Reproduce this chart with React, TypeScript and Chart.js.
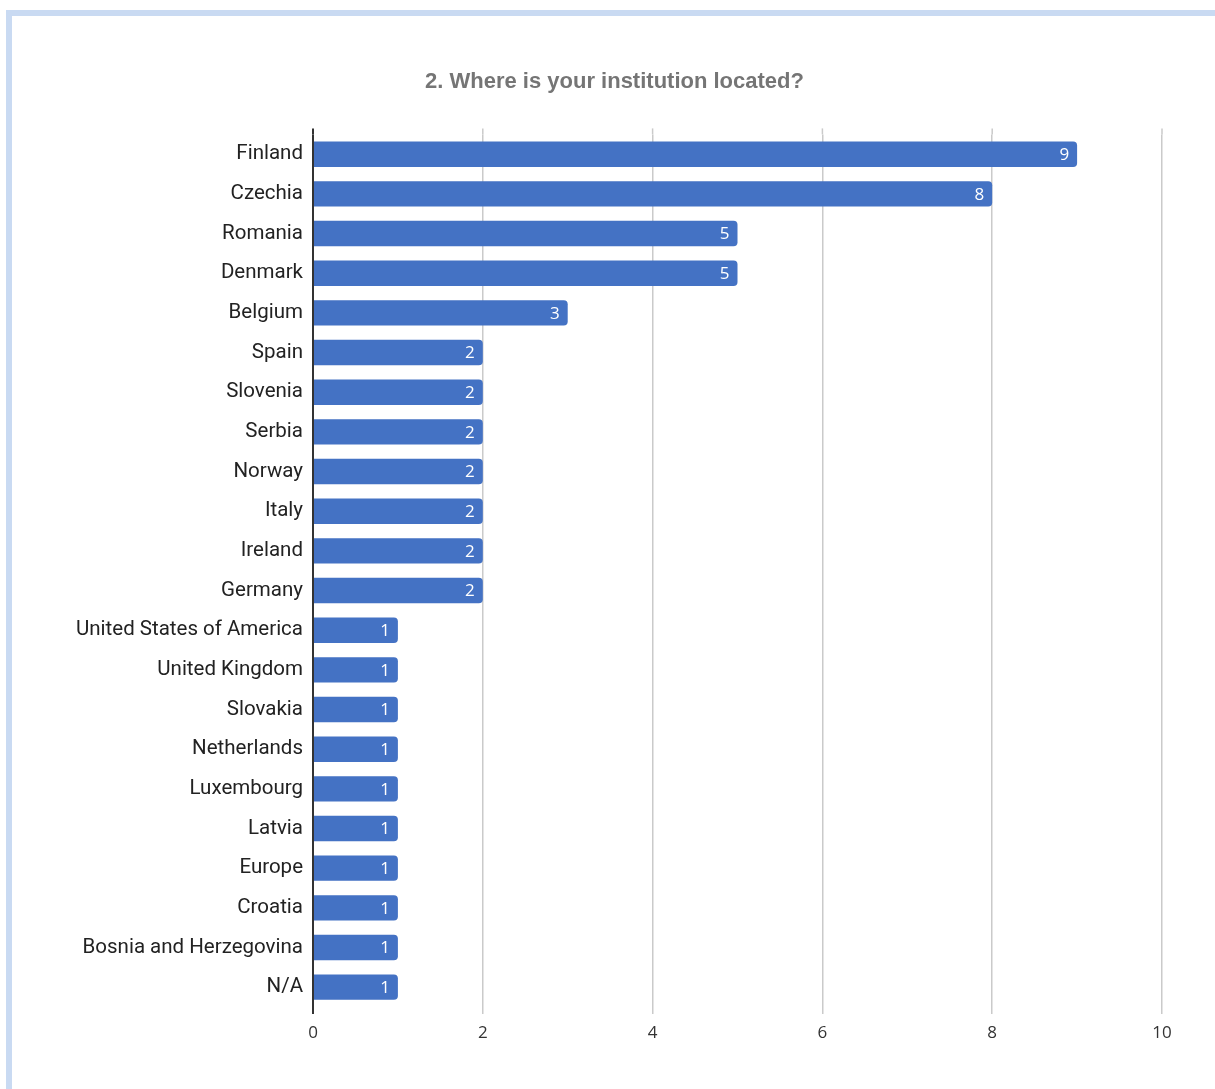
import React, { useEffect, useRef } from "react";
import { Chart, registerables } from "chart.js";

Chart.register(...registerables);

const TITLE = "2. Where is your institution located?";
const countries = [
  "Finland", "Czechia", "Romania", "Denmark", "Belgium", "Spain", "Slovenia", "Serbia",
  "Norway", "Italy", "Ireland", "Germany", "United States of America", "United Kingdom",
  "Slovakia", "Netherlands", "Luxembourg", "Latvia", "Europe", "Croatia",
  "Bosnia and Herzegovina", "N/A",
];
const counts = [9, 8, 5, 5, 3, 2, 2, 2, 2, 2, 2, 2, 1, 1, 1, 1, 1, 1, 1, 1, 1, 1];
const xMin = 0;
const xMax = 10;
const xStep = 2;

const BAR_COLOR = "#4472C4";
const GRID_COLOR = "#cacaca";

const gridExtendPlugin = {
  id: "gridExtend",
  beforeDatasetsDraw(chart: any) {
    const { ctx, chartArea, scales } = chart;
    const xs = scales.x;
    ctx.save();
    xs.ticks.forEach((t: any) => {
      const px = xs.getPixelForValue(t.value);
      ctx.beginPath();
      ctx.strokeStyle = t.value === 0 ? "#333333" : GRID_COLOR;
      ctx.lineWidth = t.value === 0 ? 2 : 1.5;
      ctx.moveTo(px, chartArea.top - 6);
      ctx.lineTo(px, chartArea.top);
      ctx.stroke();
    });
    ctx.restore();
  },
};

const valueLabelPlugin = {
  id: "valueLabels",
  afterDatasetsDraw(chart: any) {
    const { ctx } = chart;
    const meta = chart.getDatasetMeta(0);
    const data = chart.data.datasets[0].data;
    ctx.save();
    ctx.fillStyle = "#ffffff";
    ctx.font = "17px 'Open Sans', sans-serif";
    ctx.textAlign = "right";
    ctx.textBaseline = "middle";
    meta.data.forEach((bar: any, i: number) => {
      ctx.fillText(String(data[i]), bar.x - 8, bar.y + 1);
    });
    ctx.restore();
  },
};

export default function App() {
  const ref = useRef<HTMLCanvasElement | null>(null);

  useEffect(() => {
    if (!ref.current) return;
    const chart = new Chart(ref.current, {
      type: "bar",
      data: {
        labels: countries,
        datasets: [
          {
            data: counts,
            backgroundColor: BAR_COLOR,
            borderRadius: 4,
            borderSkipped: "start",
            categoryPercentage: 1,
            barPercentage: 0.64,
          },
        ],
      },
      options: {
        indexAxis: "y",
        animation: false,
        responsive: false,
        maintainAspectRatio: false,
        layout: { padding: { top: 50, left: 67, right: 53, bottom: 0 } },
        plugins: {
          legend: { display: false },
          tooltip: { enabled: false },
          title: {
            display: true,
            text: TITLE,
            color: "#757575",
            font: { family: "Arial, 'Liberation Sans', sans-serif", size: 22, weight: "bold", lineHeight: 1.2 },
            padding: { top: 19, bottom: 39 },
          },
        },
        scales: {
          x: {
            min: xMin,
            max: xMax,
            ticks: {
              stepSize: xStep,
              color: "#333333",
              font: { family: "'Open Sans', sans-serif", size: 17 },
              padding: 9,
            },
            grid: {
              color: (c: any) => (c.tick && c.tick.value === 0 ? "#333333" : GRID_COLOR),
              lineWidth: (c: any) => (c.tick && c.tick.value === 0 ? 2 : 1.5),
              tickLength: 7,
              drawTicks: true,
            },
            border: { display: false },
            afterFit: (s: any) => {
              s.height = 82;
            },
          },
          y: {
            ticks: {
              color: "#222222",
              font: { family: "Roboto, Arial, sans-serif", size: 20.5 },
              padding: 10,
              autoSkip: false,
            },
            grid: { display: false, drawTicks: false },
            border: { display: false },
            afterFit: (s: any) => {
              s.width = 246;
            },
          },
        },
      },
      plugins: [gridExtendPlugin, valueLabelPlugin],
    });
    return () => chart.destroy();
  }, []);

  return (
    <div style={{ position: "fixed", left: 0, top: 0, width: 1215, height: 1089, background: "#ffffff" }}>
      <div style={{ position: "absolute", left: 6, top: 10, width: 1209, height: 6, background: "#c9daf2" }} />
      <div style={{ position: "absolute", left: 6, top: 10, width: 6, height: 1079, background: "#c9daf2" }} />
      <canvas ref={ref} width={1215} height={1089} style={{ position: "absolute", left: 0, top: 0 }} />
    </div>
  );
}
